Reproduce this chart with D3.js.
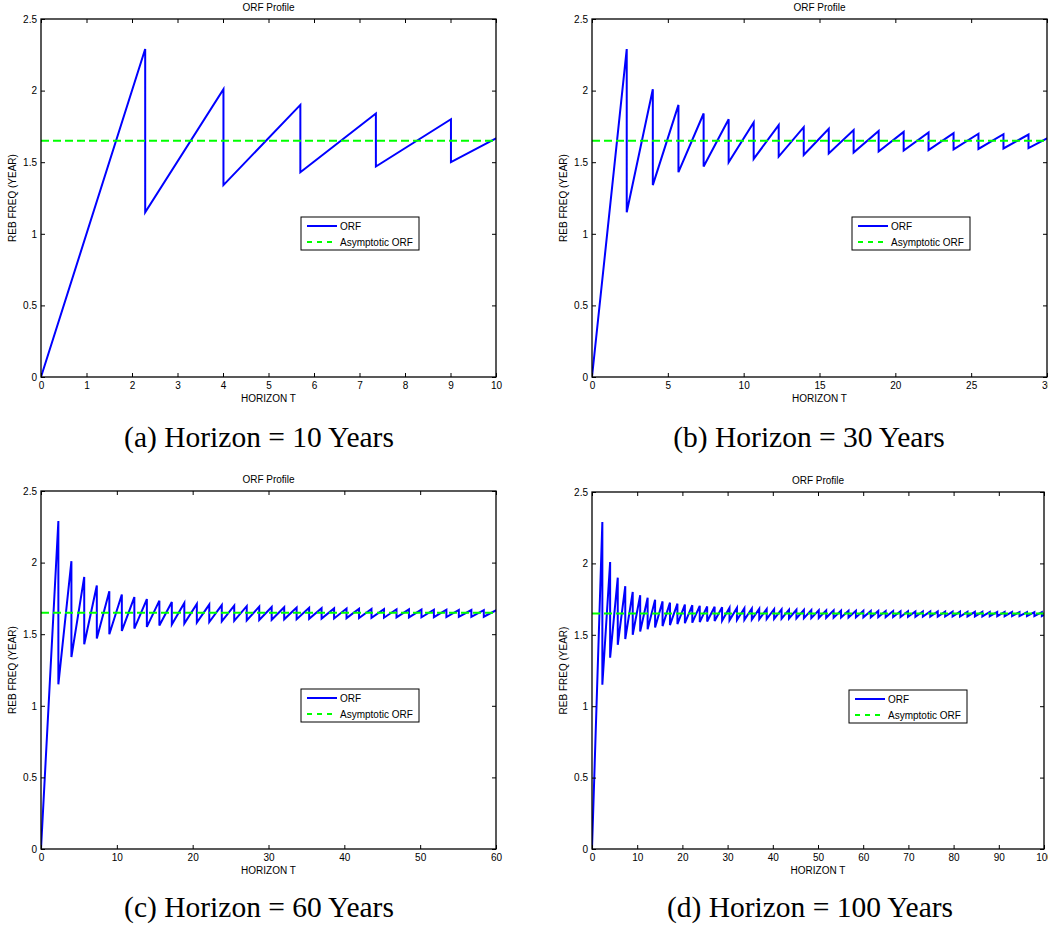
<!DOCTYPE html>
<html><head><meta charset="utf-8">
<script src="https://cdn.jsdelivr.net/npm/d3@7"></script>
<style>
html,body{margin:0;padding:0;background:#fff;}
svg{display:block;}
</style></head>
<body>
<svg id="chart" width="1048" height="928"></svg>
<script>
// ---------------- data ----------------
const horizons = [10, 30, 60, 100];
const captions = ["(a) Horizon = 10 Years", "(b) Horizon = 30 Years", "(c) Horizon = 60 Years", "(d) Horizon = 100 Years"];
const xTickSets = [
  [0,1,2,3,4,5,6,7,8,9,10],
  [0,5,10,15,20,25,30],
  [0,10,20,30,40,50,60],
  [0,10,20,30,40,50,60,70,80,90,100]
];
const yTicks = [0, 0.5, 1, 1.5, 2, 2.5];
const asymptoticORF = 1.65;
// rebalancing switch times (years) where the ORF jumps down
const resetT = [2.29,4.01,5.70,7.36,9.01,10.66,12.31,13.96,15.61,17.25,18.90,20.55,22.19,23.84,25.48,27.13,28.78,30.42,32.07,33.71,
  35.36,37.00,38.65,40.29,41.94,43.58,45.23,46.88,48.52,50.17,51.81,53.46,55.10,56.75,58.39,60.04,61.68,63.33,64.97,66.62,
  68.26,69.91,71.55,73.20,74.84,76.49,78.13,79.78,81.42,83.07,84.71,86.36,88.00,89.65,91.29,92.94,94.58,96.23,97.87,99.52];
// ORF just before each switch (peaks)
const peakORF = [2.29,2.01,1.90,1.84,1.80,1.777,1.759,1.745,1.734,1.725,1.718,1.712,1.707,1.703,1.699,1.696,1.693,1.690,1.688,1.686,
  1.684,1.682,1.680,1.679,1.678,1.676,1.675,1.674,1.673,1.672,1.671,1.671,1.670,1.669,1.668,1.668,1.667,1.667,1.666,1.666,
  1.665,1.665,1.664,1.664,1.663,1.663,1.662,1.662,1.662,1.661,1.661,1.661,1.660,1.660,1.660,1.660,1.659,1.659,1.659,1.659];
// ORF just after each switch (troughs)
const troughORF = [1.15,1.34,1.43,1.47,1.50,1.523,1.539,1.551,1.561,1.568,1.575,1.581,1.585,1.589,1.593,1.596,1.599,1.601,1.604,1.605,
  1.607,1.609,1.610,1.612,1.613,1.614,1.615,1.617,1.617,1.618,1.619,1.620,1.621,1.621,1.622,1.623,1.623,1.624,1.624,1.625,
  1.625,1.626,1.626,1.627,1.627,1.627,1.628,1.628,1.628,1.629,1.629,1.629,1.630,1.630,1.630,1.631,1.631,1.631,1.631,1.631];
const startPoint = [0, 0];
const endPoint = [100, 1.639];

// ---------------- series ----------------
const orfSeries = [startPoint];
resetT.forEach((t, i) => { orfSeries.push([t, peakORF[i]]); orfSeries.push([t, troughORF[i]]); });
orfSeries.push(endPoint);

// ---------------- layout ----------------
const panels = [
  {x0: 41, x1: 496, y0: 19, y1: 377, cx: 259, cy: 437},
  {x0: 592, x1: 1047, y0: 19, y1: 377, cx: 809, cy: 437},
  {x0: 41, x1: 496, y0: 491, y1: 849, cx: 259, cy: 907},
  {x0: 592, x1: 1044, y0: 492, y1: 849, cx: 810, cy: 907}
];
const FONT = "'Liberation Sans', Arial, Helvetica, sans-serif";
const svg = d3.select("#chart");
const defs = svg.append("defs");

panels.forEach((p, i) => {
  const H = horizons[i];
  const x = d3.scaleLinear().domain([0, H]).range([p.x0, p.x1]);
  const y = d3.scaleLinear().domain([0, 2.5]).range([p.y1, p.y0]);
  const g = svg.append("g");

  defs.append("clipPath").attr("id", "clip" + i)
    .append("rect").attr("x", p.x0).attr("y", p.y0 - 2).attr("width", p.x1 - p.x0).attr("height", p.y1 - p.y0 + 4);

  // title
  g.append("text").attr("x", (p.x0 + p.x1) / 2).attr("y", p.y0 - 12)
    .attr("text-anchor", "middle").attr("dominant-baseline", "central")
    .style("font-family", FONT).style("font-size", "10px").text("ORF Profile");

  // data
  const line = d3.line().x(d => x(d[0])).y(d => y(d[1]));
  const plot = g.append("g").attr("clip-path", `url(#clip${i})`);
  plot.append("path").datum(orfSeries.filter((d, k) => d[0] <= H || (k > 0 && orfSeries[k - 1][0] <= H)))
    .attr("d", line).attr("fill", "none").attr("stroke", "#0000ff").attr("stroke-width", 2)
    .attr("stroke-linejoin", "miter");
  plot.append("line").attr("x1", x(0)).attr("x2", x(H)).attr("y1", y(asymptoticORF)).attr("y2", y(asymptoticORF))
    .attr("stroke", "#00ff00").attr("stroke-width", 2).attr("stroke-dasharray", "8,4");

  // axes
  const xt = xTickSets[i];
  const bottom = g.append("g").attr("transform", `translate(0,${p.y1})`)
    .call(d3.axisBottom(x).tickValues(xt).tickSize(-4).tickPadding(6).tickFormat(d3.format("~g")));
  const top = g.append("g").attr("transform", `translate(0,${p.y0})`)
    .call(d3.axisTop(x).tickValues(xt).tickSize(-4).tickFormat(""));
  const left = g.append("g").attr("transform", `translate(${p.x0},0)`)
    .call(d3.axisLeft(y).tickValues(yTicks).tickSize(-4).tickPadding(4).tickFormat(d3.format("~g")));
  const right = g.append("g").attr("transform", `translate(${p.x1},0)`)
    .call(d3.axisRight(y).tickValues(yTicks).tickSize(-4).tickFormat(""));
  [bottom, top, left, right].forEach(a => {
    a.select(".domain").remove();
    a.selectAll("line").attr("stroke", "#000").attr("stroke-width", 1);
    a.selectAll("text").style("font-family", FONT).style("font-size", "10px").attr("fill", "#000");
  });
  bottom.selectAll("text").attr("dy", "0.71em").attr("y", 5);

  g.append("rect").attr("x", p.x0).attr("y", p.y0).attr("width", p.x1 - p.x0).attr("height", p.y1 - p.y0)
    .attr("fill", "none").attr("stroke", "#000").attr("stroke-width", 1.3);

  // axis labels
  g.append("text").attr("x", (p.x0 + p.x1) / 2).attr("y", p.y1 + 21)
    .attr("text-anchor", "middle").attr("dominant-baseline", "central")
    .style("font-family", FONT).style("font-size", "10px").text("HORIZON T");
  g.append("text").attr("transform", `translate(${p.x0 - 29},${(p.y0 + p.y1) / 2}) rotate(-90)`)
    .attr("text-anchor", "middle").attr("dominant-baseline", "central")
    .style("font-family", FONT).style("font-size", "10px").text("REB FREQ (YEAR)");

  // legend
  const lx = p.x1 - 195, ly = p.y0 + 198;
  const lg = g.append("g");
  lg.append("rect").attr("x", lx).attr("y", ly).attr("width", 118).attr("height", 33)
    .attr("fill", "#fff").attr("stroke", "#000").attr("stroke-width", 1);
  const items = [{label: "ORF", color: "#0000ff", dash: null}, {label: "Asymptotic ORF", color: "#00ff00", dash: "5,5"}];
  items.forEach((it, k) => {
    const yy = ly + 9 + k * 16;
    lg.append("line").attr("x1", lx + 6).attr("x2", lx + 36).attr("y1", yy).attr("y2", yy)
      .attr("stroke", it.color).attr("stroke-width", 2).attr("stroke-dasharray", it.dash);
    lg.append("text").attr("x", lx + 39).attr("y", yy).attr("dominant-baseline", "central")
      .style("font-family", FONT).style("font-size", "10px").text(it.label);
  });

  // caption
  svg.append("text").attr("x", p.cx).attr("y", p.cy).attr("text-anchor", "middle").attr("dominant-baseline", "central")
    .style("font-family", "'Liberation Serif', 'Times New Roman', serif").style("font-size", "29.5px").text(captions[i]);
});
</script>
</body></html>
